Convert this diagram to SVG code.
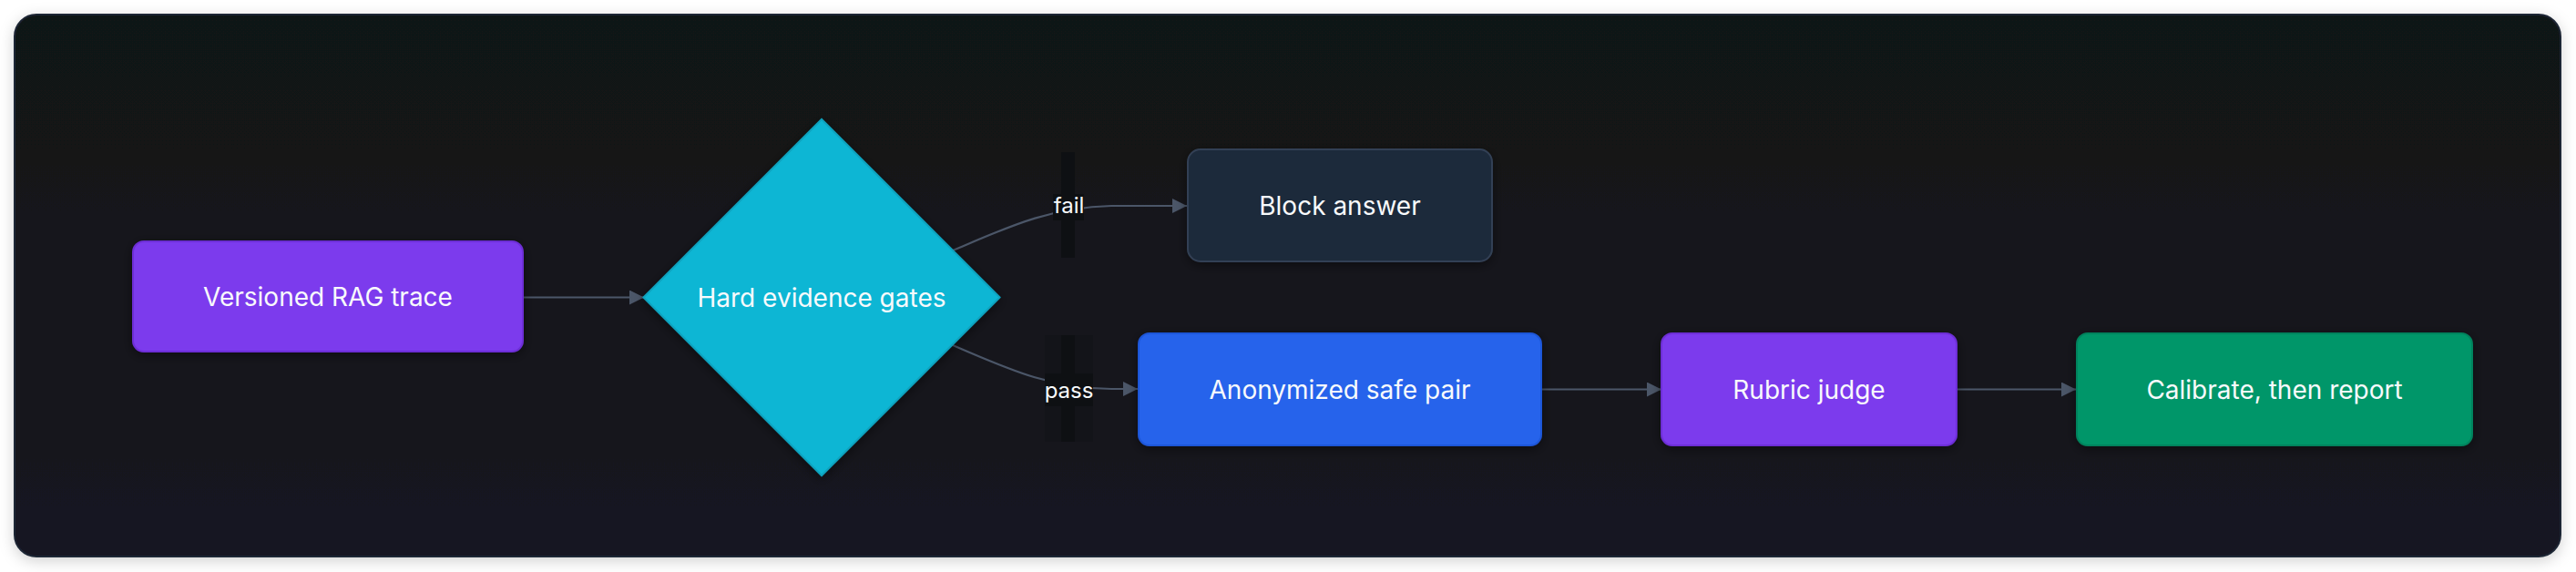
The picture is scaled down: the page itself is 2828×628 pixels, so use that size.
<svg xmlns="http://www.w3.org/2000/svg" width="2828" height="628" viewBox="0 0 2828 628">
  <defs>
    <linearGradient id="bgGrad" x1="0" y1="0" x2="0" y2="1">
      <stop offset="0" stop-color="#111216"/>
      <stop offset="1" stop-color="#151621"/>
    </linearGradient>
    <filter id="frameShadow" x="-5%" y="-20%" width="110%" height="140%">
      <feDropShadow dx="0" dy="4" stdDeviation="8" flood-color="#000000" flood-opacity="0.18"/>
    </filter>
    <filter id="nodeShadow" x="-20%" y="-30%" width="140%" height="160%">
      <feDropShadow dx="0" dy="3" stdDeviation="6" flood-color="#000000" flood-opacity="0.45"/>
    </filter>
    <marker id="arrow" viewBox="0 0 16 16" refX="16" refY="8" markerWidth="16" markerHeight="16" markerUnits="userSpaceOnUse" orient="auto">
      <path d="M0,0 L16,8 L0,16 z" fill="#4b5668"/>
    </marker>
    <style>
      .lbl { font-family: Inter, "Noto Sans", "Liberation Sans", sans-serif; font-size: 28px; fill: #f8fafc; text-anchor: middle; dominant-baseline: central; }
      .elbl { font-family: Inter, "Noto Sans", "Liberation Sans", sans-serif; font-size: 24px; fill: #f8fafc; text-anchor: middle; dominant-baseline: central; }
      .edge { fill: none; stroke: #4b5668; stroke-width: 2.2; marker-end: url(#arrow); }
      .lblbg { fill: #0e1013; }
      .node { filter: url(#nodeShadow); stroke-width: 2; }
    </style>
  </defs>

  <rect x="0" y="0" width="2828" height="628" fill="#ffffff"/>
  <rect id="frame" x="16" y="16" width="2795" height="595" rx="24" ry="24" fill="url(#bgGrad)" stroke="#1f2634" stroke-width="2" filter="url(#frameShadow)"/>

  <g id="connectors">
    <path id="e-trace-gates" class="edge" d="M574,326.5 L707,326.5"/>
    <path id="e-gates-block" class="edge" d="M1046,275 C1105,250 1150,228 1220,226 L1303,226"/>
    <path id="e-gates-pair" class="edge" d="M1046,379 C1105,404 1150,426 1220,427 L1249,427"/>
    <path id="e-pair-judge" class="edge" d="M1692,427.5 L1824,427.5"/>
    <path id="e-judge-report" class="edge" d="M2148,427.5 L2279,427.5"/>
    <g id="label-fail">
      <rect class="lblbg" x="1165" y="167" width="15" height="116"/>
      <rect class="lblbg" x="1156" y="213" width="34" height="29"/>
      <text class="elbl" x="1173.5" y="225">fail</text>
    </g>
    <g id="label-pass">
      <rect class="lblbg" x="1147" y="368" width="53" height="117" opacity="0.35"/>
      <rect class="lblbg" x="1165" y="368" width="15" height="117"/>
      <rect class="lblbg" x="1147" y="410" width="53" height="36"/>
      <text class="elbl" x="1173.5" y="428">pass</text>
    </g>
  </g>

  <g id="node-trace">
    <rect class="node" x="146" y="265" width="428" height="121" rx="12" ry="12" fill="#7c3aed" stroke="#6d2fd6"/>
    <text class="lbl" x="360" y="326">Versioned RAG trace</text>
  </g>

  <g id="node-gates">
    <polygon class="node" points="902,131 1097.5,326.5 902,522 706.5,326.5" fill="#08b6d4" stroke="#0aa3bf"/>
    <text class="lbl" x="902" y="327">Hard evidence gates</text>
  </g>

  <g id="node-block">
    <rect class="node" x="1304" y="164" width="334" height="123" rx="14" ry="14" fill="#1e293b" stroke="#334155"/>
    <text class="lbl" x="1471" y="226">Block answer</text>
  </g>

  <g id="node-pair">
    <rect class="node" x="1250" y="366" width="442" height="123" rx="12" ry="12" fill="#2563eb" stroke="#1f56d8"/>
    <text class="lbl" x="1471" y="428">Anonymized safe pair</text>
  </g>

  <g id="node-judge">
    <rect class="node" x="1824" y="366" width="324" height="123" rx="12" ry="12" fill="#7c3aed" stroke="#6d2fd6"/>
    <text class="lbl" x="1986" y="428">Rubric judge</text>
  </g>

  <g id="node-report">
    <rect class="node" x="2280" y="366" width="434" height="123" rx="12" ry="12" fill="#059669" stroke="#04835d"/>
    <text class="lbl" x="2497" y="428">Calibrate, then report</text>
  </g>
</svg>
